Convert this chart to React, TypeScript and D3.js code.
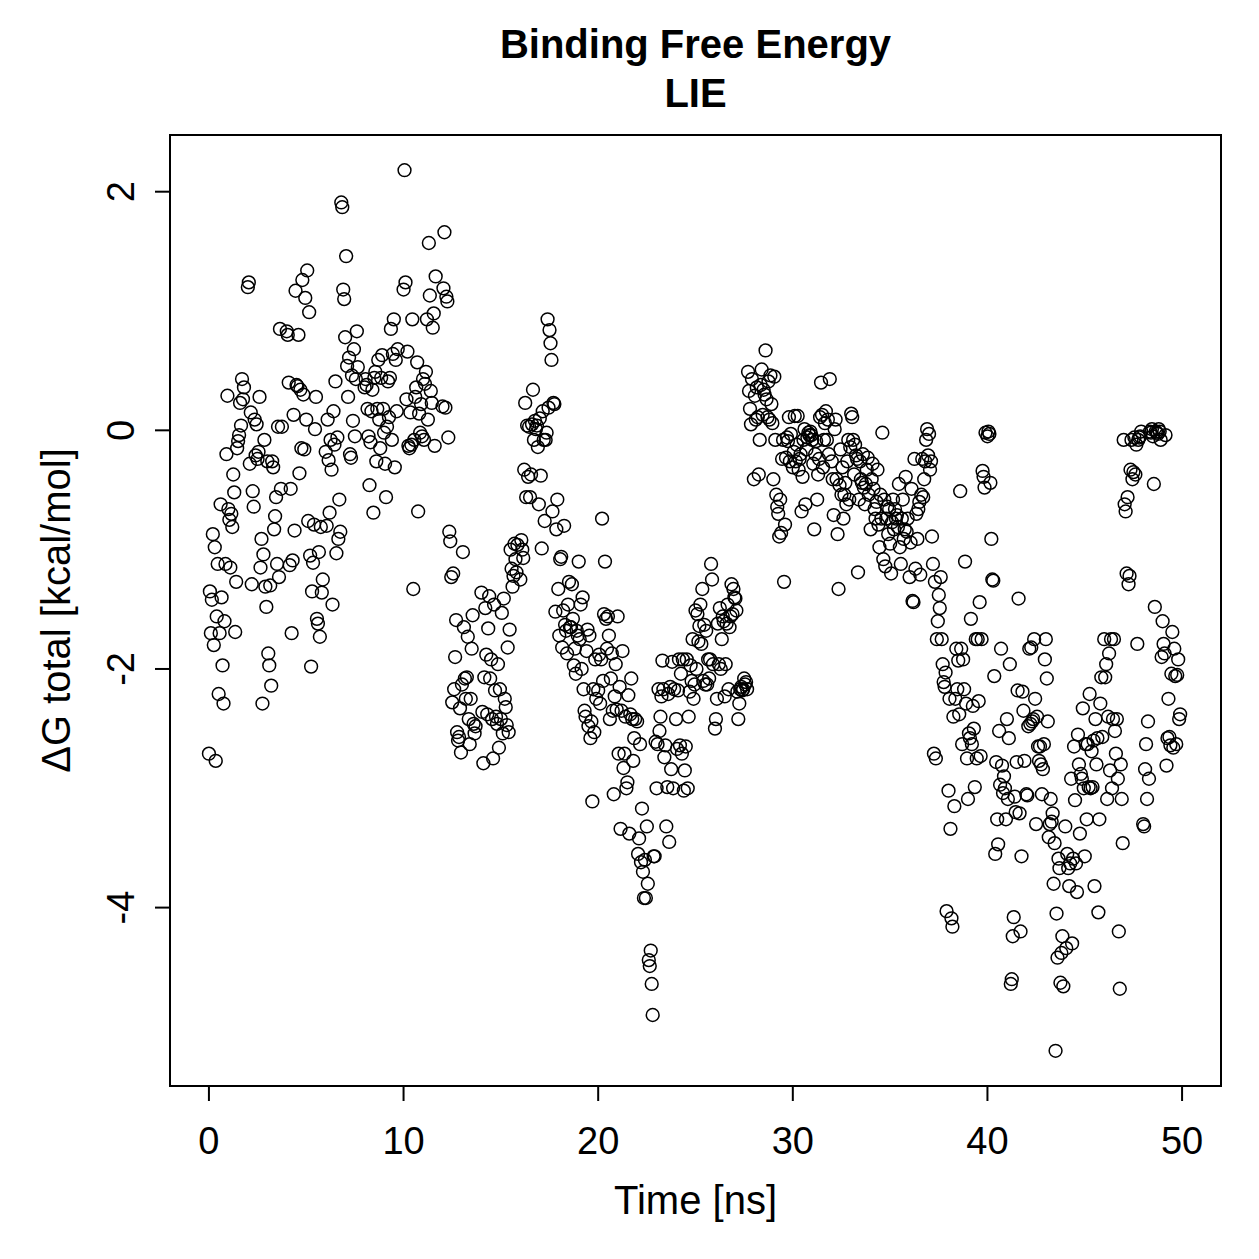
import React from 'react';
import * as d3 from 'd3';

// ΔG total [kcal/mol], one value per frame (0.05 ns), grouped in 2 ns windows
const frameStepNs = 0.05;
const windowStartNs = [0, 2, 4, 6, 8, 10, 12, 14, 16, 18, 20, 22, 24, 26, 28, 30, 32, 34, 36, 38, 40, 42, 44, 46, 48];

const dg00 = [-2.71, -1.35, -1.7, -1.42, -0.87, -1.8, -0.98, -2.77, -1.56, -1.12, -2.21, -1.7, -0.62, -1.4, -1.97, -2.29, -1.6, -1.12, -0.2, 0.29, -0.66, -0.75, -1.15, -0.7, -0.81, -0.37, -0.52, -1.69, -1.27, -0.15, -0.09, -0.04, 0.23, 0.04, 0.43, 0.26, 0.36];
const dg02 = [1.2, 1.24, -0.28, 0.15, -1.29, -0.51, -0.64, 0.09, -0.21, 0.05, -0.24, -0.18, 0.28, -1.15, -0.91, -2.29, -1.04, -0.08, -1.31, -1.48, -0.26, -1.87, -1.97, -1.3, -2.14, -0.26, -0.31, -0.83, -0.72, -0.56, -1.12, 0.03, -1.23, 0.85, -0.49, 0.03];
const dg04 = [0.83, 0.8, 0.4, -1.13, -0.49, -1.7, -1.09, 0.13, -0.84, 1.17, 0.38, 0.37, 0.8, -0.36, 0.34, -0.15, 1.26, 0.3, -0.16, 1.11, 0.09, 1.34, -0.76, 0.99, -1.05, -1.98, -1.35, -1.11, -0.79, 0.01, 0.28, -1.58, -1.62, -1.02, -1.73, -0.81, -1.36, -1.25];
const dg06 = [-0.18, -0.8, 0.09, -0.25, -0.69, -0.08, -0.33, -1.46, 0.16, -0.12, 0.41, -1.03, -0.06, -0.91, -0.58, -0.85, 1.91, 1.87, 1.18, 1.1, 0.78, 1.46, 0.54, 0.28, 0.61, -0.2, -0.23, 0.46, 0.08, 0.68, -0.05, 0.43, 0.83, 0.53];
const dg08 = [0.36, 0.43, 0.38, 0.18, -0.05, -0.46, -0.1, 0.16, 0.34, -0.69, 0.44, 0.49, -0.26, 0.18, 0.59, 0.09, -0.15, 0.44, 0.63, 0.18, -0.02, -0.28, -0.56, 0.03, 0.41, 0.11, 0.44, 0.85, -0.08, 0.64, 0.93, -0.31, 0.59, 0.16, 0.68];
const dg10 = [1.18, 2.18, 1.24, 0.26, 0.66, -0.13, -0.15, 0.15, -0.12, 0.93, -1.33, -0.08, 0.28, 0.36, 0.57, -0.68, 0.14, -0.02, 0.22, -0.05, 0.43, -0.08, 0.39, 0.49, 0.93, 0.09, 1.57, 1.13, 0.33, 0.23, 0.86, 0.98, -0.13, 1.29];
const dg12 = [0.2, 1.19, 1.66, 0.19, 1.12, 1.08, -0.06, -0.85, -0.93, -1.23, -2.28, -1.2, -2.17, -1.9, -1.59, -2.53, -2.6, -2.57, -2.33, -2.7, -2.13, -1.02, -1.65, -2.08, -2.25, -2.07, -1.73, -2.42, -2.63, -2.25, -1.83, -1.55, -2.46, -2.54, -2.48];
const dg14 = [-1.36, -2.36, -2.79, -2.07, -1.49, -1.88, -2.38, -1.66, -1.39, -2.08, -1.92, -2.42, -2.75, -1.46, -2.18, -2.4, -2.46, -1.96, -2.66, -2.17, -2.42, -1.53, -2.54, -1.41, -2.25, -2.32, -2.47, -1.82, -2.53, -1.67, -1.0, -1.16, -1.31, -1.22, -0.95, -1.08, -1.19, -0.96];
const dg16 = [-1.25, -0.92, -1.0, -1.07, -0.33, 0.23, -0.56, 0.04, -0.39, 0.03, -0.56, -0.37, 0.05, 0.34, -0.08, 0.08, 0.01, 0.04, -0.14, -0.62, 0.1, -0.38, -0.99, 0.16, -0.08, -0.76, -0.08, -0.02, 0.93, 0.19, 0.84, 0.73, 0.59, -0.68, 0.23, 0.22, -1.52, -0.83, -0.58, -1.33];
const dg18 = [-1.72, -1.08, -1.06, -1.82, -1.51, -0.8, -1.63, -1.68, -1.87, -1.46, -1.27, -1.65, -1.65, -1.29, -1.58, -1.97, -1.83, -2.04, -1.68, -1.72, -1.1, -1.75, -1.46, -2.0, -1.4, -2.17, -2.35, -2.4, -1.85, -1.67, -2.48, -1.72, -2.58, -2.44, -3.11, -2.17, -2.53, -1.92, -2.25];
const dg20 = [-2.18, -1.88, -2.29, -1.92, -0.74, -2.1, -1.54, -1.1, -1.58, -1.83, -1.56, -1.72, -2.42, -2.08, -1.87, -2.35, -3.05, -2.23, -1.96, -2.34, -1.56, -2.71, -2.15, -3.34, -2.35, -1.85, -2.83, -2.71, -2.4, -3.0, -2.95, -2.22, -3.38, -2.38, -2.08, -2.42, -2.77, -2.58, -2.42];
const dg22 = [-2.44, -3.55, -3.42, -2.63, -3.62, -3.17, -3.7, -3.92, -3.6, -3.92, -3.32, -3.8, -4.44, -4.49, -4.36, -4.64, -4.9, -3.57, -3.57, -2.61, -3.0, -2.63, -2.17, -2.52, -2.4, -2.23, -1.93, -2.17, -2.74, -2.64, -3.32, -2.99, -2.21, -3.45, -2.15, -2.84, -1.94, -3.0, -2.17];
const dg24 = [-2.42, -2.67, -2.18, -1.92, -2.64, -2.04, -2.71, -1.92, -3.02, -2.85, -2.65, -1.92, -3.0, -2.4, -2.19, -1.97, -2.1, -1.75, -2.25, -2.13, -1.51, -2.0, -1.54, -1.77, -1.64, -1.46, -1.79, -1.33, -2.1, -1.63, -2.13, -1.68, -2.13, -1.92, -2.08, -1.92, -1.12, -1.25, -1.96];
const dg26 = [-2.5, -2.42, -2.25, -1.62, -1.96, -1.49, -2.0, -1.75, -1.56, -1.6, -2.23, -1.96, -1.62, -1.46, -2.17, -1.65, -1.56, -1.29, -1.54, -1.33, -1.4, -1.41, -1.51, -2.19, -2.42, -2.29, -2.17, -2.15, -2.18, -2.17, -2.08, -2.13, -2.11, -2.17, 0.49, 0.33, 0.18, 0.05, 0.43];
const dg28 = [-0.41, 0.29, 0.09, 0.36, 0.11, -0.37, -0.08, 0.38, 0.51, 0.13, 0.34, 0.3, 0.67, 0.26, 0.11, 0.41, 0.09, 0.46, 0.22, 0.06, -0.41, 0.45, -0.08, -0.54, -0.64, -0.7, -0.89, -0.58, -0.86, -0.24, -0.08, -1.27, -0.79, -0.23, -0.06, -0.09, 0.11, -0.26, -0.03];
const dg30 = [-0.31, -0.18, 0.12, -0.26, -0.12, 0.12, -0.33, -0.24, -0.2, -0.68, -0.39, -0.08, 0.01, -0.62, -0.16, -0.06, -0.02, -0.04, -0.01, -0.04, -0.08, -0.28, -0.83, -0.2, -0.09, -0.58, -0.37, -0.24, 0.11, 0.4, 0.13, -0.31, -0.08, 0.06, 0.16, -0.08, 0.09, -0.2, 0.43];
const dg32 = [-0.26, -0.41, -0.71, 0.01, 0.09, -0.41, -0.87, -1.33, -0.46, -0.16, -0.54, -0.31, -0.74, -0.54, -0.44, -0.62, -0.26, -0.08, -0.58, -0.14, 0.14, 0.11, -0.08, -0.37, -0.12, -0.21, -0.24, -1.19, -0.58, -0.26, -0.41, -0.44, -0.2, -0.48, -0.62, -0.45, -0.33, -0.23, -0.54];
const dg34 = [-0.83, -0.41, -0.28, -0.49, -0.66, -0.74, -0.6, -0.33, -0.79, -0.98, -0.54, -0.74, -0.02, -1.08, -0.58, -1.14, -0.74, -0.64, -0.87, -0.66, -0.95, -1.2, -0.77, -0.58, -0.83, -0.66, -0.74, -0.71, -0.81, -0.45, -0.98, -1.12, -0.74, -0.58, -0.91, -0.83, -0.39, -0.85, -0.74];
const dg36 = [-1.23, -0.94, -0.49, -1.43, -1.44, -0.24, -1.16, -0.7, -0.91, -0.66, -0.6, -1.21, -0.54, -0.24, -0.56, -0.41, -0.26, -0.08, 0.01, -0.21, -0.03, -0.33, -0.26, -0.89, -1.12, -2.71, -1.27, -2.75, -1.75, -1.6, -1.38, -1.49, -1.23, -1.75, -1.96, -2.11, -2.15, -2.03, -4.03];
const dg38 = [-3.02, -2.25, -3.34, -4.09, -4.16, -2.4, -3.15, -2.25, -1.83, -2.17, -1.93, -2.38, -0.51, -1.83, -2.63, -1.92, -2.17, -1.1, -2.29, -2.75, -3.09, -2.54, -2.58, -1.58, -2.63, -2.31, -2.5, -2.99, -1.75, -2.75, -1.75, -2.27, -1.44, -2.73, -1.75, -0.34, -0.39, -0.48, -0.02];
const dg40 = [-0.05, -0.01, -0.03, -0.44, -0.91, -1.25, -1.26, -2.06, -3.55, -2.78, -3.26, -3.47, -2.52, -2.97, -1.83, -2.81, -3.04, -2.9, -3.0, -3.26, -2.42, -3.09, -2.58, -1.96, -4.64, -4.6, -4.24, -4.08, -3.07, -3.2, -2.78, -2.18, -1.41, -3.21, -4.2, -3.57, -2.19, -2.35, -2.77];
const dg42 = [-3.05, -3.06, -2.48, -1.83, -2.46, -1.82, -2.44, -2.42, -1.75, -2.25, -3.3, -2.4, -2.65, -2.77, -2.65, -2.8, -3.05, -2.84, -2.63, -1.92, -1.75, -2.08, -2.44, -3.41, -3.3, -3.09, -3.28, -3.21, -3.8, -3.46, -5.2, -4.05, -4.42, -3.59, -3.67, -4.63, -4.38, -4.24, -4.66];
const dg44 = [-3.32, -4.34, -3.55, -3.67, -3.82, -3.63, -2.92, -4.3, -3.59, -2.65, -3.1, -3.63, -3.87, -2.55, -2.8, -3.38, -2.88, -2.92, -2.33, -3.0, -3.57, -2.63, -3.26, -2.63, -2.99, -2.21, -3.0, -2.69, -2.99, -2.6, -3.82, -2.42, -2.8, -2.58, -4.04, -3.26, -2.29, -2.07, -2.57];
const dg46 = [-1.75, -2.07, -1.96, -3.09, -2.4, -1.87, -2.85, -1.75, -3.0, -2.42, -1.75, -2.52, -2.71, -2.42, -2.92, -4.2, -4.68, -2.8, -3.09, -3.46, -0.08, -0.62, -0.68, -1.2, -0.56, -1.29, -1.22, -0.33, -0.08, -0.41, -0.35, -0.06, -0.37, -0.12, -1.79, -0.08, -0.06, -0.05, -0.01];
const dg48 = [-3.3, -3.32, -2.84, -2.63, -3.09, -2.44, -2.92, -0.01, -0.02, 0.01, -0.05, -0.45, -1.48, -0.01, -0.02, -0.03, 0.01, -0.01, -0.08, -1.9, -1.6, -1.79, -1.87, -0.04, -2.81, -2.58, -2.25, -2.57, -2.64, -2.04, -1.69, -2.66, -1.83, -2.06, -2.63, -2.05, -1.92, -2.42, -2.38];

const windows = [dg00, dg02, dg04, dg06, dg08, dg10, dg12, dg14, dg16, dg18, dg20, dg22, dg24, dg26, dg28, dg30, dg32, dg34, dg36, dg38, dg40, dg42, dg44, dg46, dg48];

const xTicks = [0, 10, 20, 30, 40, 50];
const yTicks = [-4, -2, 0, 2];

const points = windows.flatMap((vals, w) =>
  vals.map((v, j) => ({ t: windowStartNs[w] + j * frameStepNs, dg: v }))
);

const W = 1259;
const H = 1259;
const left = 170, right = 1221, top = 135, bottom = 1086;
const font = '"Liberation Sans", Arial, Helvetica, sans-serif';

// R-style 4% axis extension
const pad = (lo: number, hi: number): [number, number] => {
  const e = (hi - lo) * 0.04;
  return [lo - e, hi + e];
};
const [tMin, tMax] = d3.extent(points, d => d.t) as [number, number];
const [gMin, gMax] = d3.extent(points, d => d.dg) as [number, number];

const x = d3.scaleLinear().domain(pad(0, 50)).range([left, right]);
const y = d3.scaleLinear().domain(pad(gMin, gMax)).range([bottom, top]);

export default function App() {
  void tMin; void tMax;
  return (
    <svg width={W} height={H} style={{ position: 'absolute', left: 0, top: 0, background: '#fff' }}
      fontFamily={font}>
      <rect x={0} y={0} width={W} height={H} fill="#fff" />
      <text x={(left + right) / 2} y={58} textAnchor="middle" fontSize={40} fontWeight="bold">Binding Free Energy</text>
      <text x={(left + right) / 2} y={107} textAnchor="middle" fontSize={40} fontWeight="bold">LIE</text>

      {points.map((d, i) => (
        <circle key={i} cx={x(d.t)} cy={y(d.dg)} r={6.4} fill="none" stroke="#000" strokeWidth={1.5} />
      ))}

      <rect x={left} y={top} width={right - left} height={bottom - top} fill="none" stroke="#000" strokeWidth={2} />

      <line x1={x(0)} x2={x(50)} y1={bottom} y2={bottom} stroke="#000" strokeWidth={2} />
      {xTicks.map(t => (
        <g key={t}>
          <line x1={x(t)} x2={x(t)} y1={bottom} y2={bottom + 15} stroke="#000" strokeWidth={2} />
          <text x={x(t)} y={1154} textAnchor="middle" fontSize={38}>{t}</text>
        </g>
      ))}
      {yTicks.map(v => (
        <g key={v}>
          <line x1={left} x2={left - 15} y1={y(v)} y2={y(v)} stroke="#000" strokeWidth={2} />
          <text transform={`translate(134,${y(v)}) rotate(-90)`} textAnchor="middle" fontSize={38}>{v}</text>
        </g>
      ))}

      <text x={(left + right) / 2} y={1214} textAnchor="middle" fontSize={40}>Time [ns]</text>
      <text transform={`translate(70,${(top + bottom) / 2}) rotate(-90)`} textAnchor="middle" fontSize={40}>ΔG total [kcal/mol]</text>
    </svg>
  );
}
